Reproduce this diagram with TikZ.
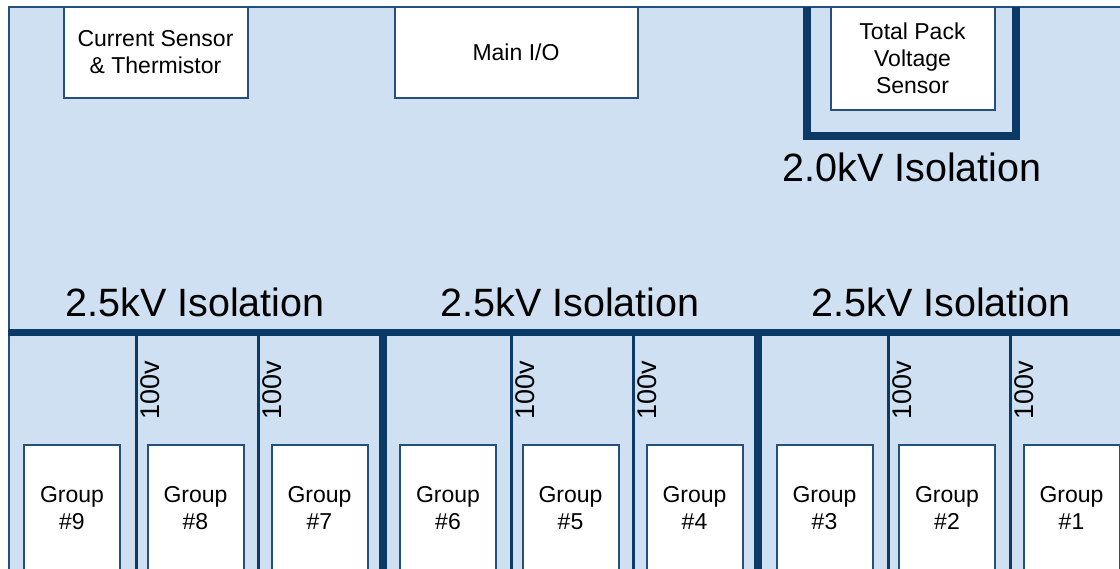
\documentclass[tikz,border=0pt]{standalone}
\usepackage{fontspec}
\setmainfont{Liberation Sans}
\usetikzlibrary{positioning}
\definecolor{panel}{HTML}{CEE0F2}
\definecolor{navy}{HTML}{0B3A67}
\definecolor{edge}{HTML}{24507E}
\tikzset{
  box/.style={draw=edge, line width=2pt, fill=white, align=center, inner sep=0pt, font=\fontsize{23}{27}\selectfont},
  groupbox/.style={box, minimum width=96pt, minimum height=126pt},
  barrier/.style={draw=navy, line width=8pt},
  divider/.style={draw=navy, line width=3pt},
  isolabel/.style={font=\fontsize{39.5}{44}\selectfont, inner sep=0pt},
  voltlabel/.style={font=\fontsize{27}{30}\selectfont, rotate=90, inner sep=0pt}
}

\begin{document}
\begin{tikzpicture}[x=1pt, y=-1pt]
\useasboundingbox (0,0) rectangle (1120,569);
\clip (0,0) rectangle (1120,569);
\draw[edge, line width=2pt, fill=panel] (9,7) rectangle (1140,590);
% isolation barriers
\draw[barrier] (807,7) -- (807,136) -- (1016,136) -- (1016,7);
\draw[barrier, line width=7pt] (8,333) -- (1130,333);
\draw[barrier] (383,333) -- (383,580);
\draw[barrier] (758,333) -- (758,580);
\draw[divider] (136,333) -- (136,580);
\draw[divider] (258,333) -- (258,580);
\draw[divider] (511,333) -- (511,580);
\draw[divider] (633,333) -- (633,580);
\draw[divider] (888,333) -- (888,580);
\draw[divider] (1010,333) -- (1010,580);
% top modules
\node[box, minimum width=184pt, minimum height=91pt] (cursens) at (155.5,52.5) {Current Sensor\\\& Thermistor};
\node[box, minimum width=243pt, minimum height=91pt] (mainio) at (516,52.5) {Main I/O};
\node[box, minimum width=164pt, minimum height=103pt] (packvolt) at (912.5,58.5) {Total Pack\\Voltage\\Sensor};
\node[isolabel] (iso20) at (912,167) {2.0kV Isolation};
\node[isolabel] (isoA) at (195,302) {2.5kV Isolation};
\node[isolabel] (isoB) at (570,302) {2.5kV Isolation};
\node[isolabel] (isoC) at (941,302) {2.5kV Isolation};
% cell groups
\node[groupbox] (grp9) at (72,508) {Group\\\#9};
\node[groupbox] (grp8) at (195.5,508) {Group\\\#8};
\node[groupbox] (grp7) at (319.5,508) {Group\\\#7};
\node[groupbox] (grp6) at (448,508) {Group\\\#6};
\node[groupbox] (grp5) at (570.5,508) {Group\\\#5};
\node[groupbox] (grp4) at (694.5,508) {Group\\\#4};
\node[groupbox] (grp3) at (824.5,508) {Group\\\#3};
\node[groupbox] (grp2) at (947,508) {Group\\\#2};
\node[groupbox] (grp1) at (1071.5,508) {Group\\\#1};
\node[voltlabel] (v8) at (150,390) {100v};
\node[voltlabel] (v7) at (272,390) {100v};
\node[voltlabel] (v5) at (525,390) {100v};
\node[voltlabel] (v4) at (647,390) {100v};
\node[voltlabel] (v2) at (902,390) {100v};
\node[voltlabel] (v1) at (1024,390) {100v};
\end{tikzpicture}
\end{document}
